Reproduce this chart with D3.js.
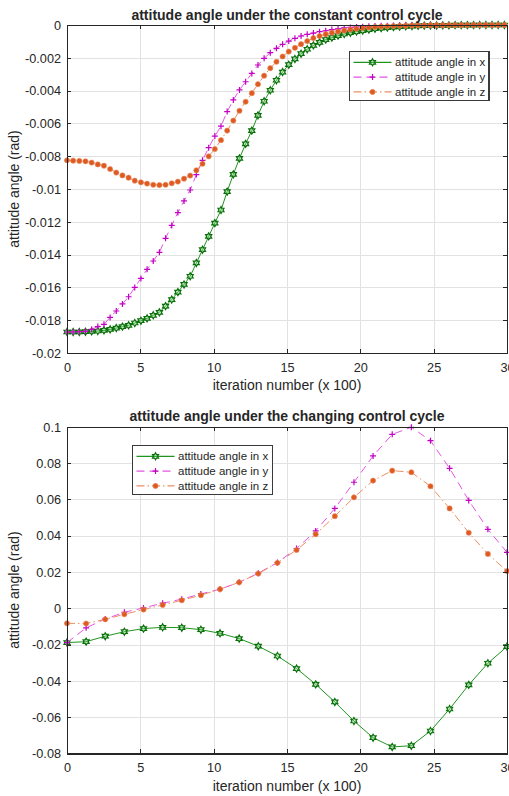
<!DOCTYPE html>
<html><head><meta charset="utf-8">
<script src="https://cdn.jsdelivr.net/npm/d3@7"></script>
<style>
body{margin:0;background:#fff}
svg{display:block}
text{font-family:"Liberation Sans",Arial,Helvetica,sans-serif;fill:#262626}
</style>
</head><body>
<svg id="c" width="509" height="796"></svg>
<script>
// ---------- DATA ----------
const xTickValues = [0, 5, 10, 15, 20, 25, 30];
const yTicksTop = [0, -0.002, -0.004, -0.006, -0.008, -0.01, -0.012, -0.014, -0.016, -0.018, -0.02];
const yTicksBottom = [0.1, 0.08, 0.06, 0.04, 0.02, 0, -0.02, -0.04, -0.06, -0.08];
const seriesNames = ["attitude angle in x", "attitude angle in y", "attitude angle in z"];
const titleTop = "attitude angle under the constant control cycle";
const titleBottom = "attitude angle under the changing control cycle";
const xLabel = "iteration number (x 100)";
const yLabel = "attitude angle (rad)";

const iterTop = [0,0.42,0.84,1.26,1.68,2.1,2.52,2.94,3.36,3.78,
 4.2,4.62,5.04,5.46,5.88,6.3,6.72,7.14,7.56,7.98,
 8.4,8.82,9.24,9.66,10.08,10.5,10.92,11.34,11.76,12.18,
 12.6,13.02,13.44,13.86,14.28,14.7,15.12,15.54,15.96,16.38,
 16.8,17.22,17.64,18.06,18.48,18.9,19.32,19.74,20.16,20.58,
 21,21.42,21.84,22.26,22.68,23.1,23.52,23.94,24.36,24.78,
 25.2,25.62,26.04,26.46,26.88,27.3,27.72,28.14,28.56,28.98,
 29.4,29.82];
const angleXTop = [-0.01872,-0.01872,-0.01872,-0.01870,-0.01868,-0.01866,-0.01862,-0.01856,-0.01848,-0.01839,
 -0.01831,-0.01817,-0.01803,-0.01789,-0.01770,-0.01752,-0.01714,-0.01674,-0.01629,-0.01582,
 -0.01532,-0.01451,-0.01370,-0.01289,-0.01208,-0.01128,-0.01016,-0.00911,-0.00813,-0.00725,
 -0.00644,-0.00551,-0.00465,-0.00398,-0.00337,-0.00287,-0.00242,-0.00207,-0.00175,-0.00148,
 -0.00124,-0.00106,-0.00089,-0.00077,-0.00065,-0.00055,-0.00047,-0.0004,-0.00034,-0.00028,
 -0.00023,-0.00019,-0.00016,-0.00013,-0.0001,-0.00008,-0.00007,-0.00005,-0.00004,-0.00003,
 -0.00003,-0.00002,-0.00002,-0.00001,-0.00001,-0.00001,-0.00001,0,0,0,
 0,0];
const angleYTop = [-0.01872,-0.01872,-0.01870,-0.01868,-0.01856,-0.01839,-0.01825,-0.01783,-0.01744,-0.01701,
 -0.01657,-0.01600,-0.01545,-0.01490,-0.01439,-0.01386,-0.01301,-0.01222,-0.01144,-0.01073,
 -0.01006,-0.00912,-0.00825,-0.00748,-0.00677,-0.00617,-0.00528,-0.00457,-0.00396,-0.00346,
 -0.00295,-0.00244,-0.00203,-0.00169,-0.00142,-0.00118,-0.00098,-0.00081,-0.00067,-0.00057,
 -0.00049,-0.00041,-0.00035,-0.00028,-0.00024,-0.00018,-0.00015,-0.00012,-0.0001,-0.00008,
 -0.00006,-0.00005,-0.00004,-0.00003,-0.00002,-0.00002,-0.00001,-0.00001,-0.00001,-0.00001,
 -0.00001,-0.00001,0,0,0,0,0,0,0,0,
 0,0];
const angleZTop = [-0.00825,-0.00827,-0.00829,-0.00831,-0.00839,-0.00850,-0.00858,-0.00878,-0.00900,-0.00917,
 -0.00931,-0.00949,-0.00959,-0.00967,-0.00974,-0.00976,-0.00974,-0.00965,-0.00955,-0.00937,
 -0.00918,-0.00886,-0.00846,-0.00801,-0.00756,-0.00702,-0.00644,-0.00583,-0.00523,-0.00468,
 -0.00416,-0.00361,-0.00309,-0.00263,-0.00224,-0.00192,-0.00162,-0.00139,-0.00117,-0.00098,
 -0.0008,-0.00067,-0.00056,-0.00047,-0.0004,-0.00034,-0.00028,-0.00023,-0.00019,-0.00015,
 -0.00012,-0.0001,-0.00008,-0.00006,-0.00005,-0.00004,-0.00003,-0.00002,-0.00002,-0.00001,
 -0.00001,-0.00001,-0.00001,-0.00001,-0.00001,0,0,0,0,0,
 0,0];

const iterBottom = [0,1.304,2.609,3.913,5.217,6.522,7.826,9.13,10.435,11.739,13.043,14.348,
 15.652,16.957,18.261,19.565,20.87,22.174,23.478,24.783,26.087,27.391,28.696,30];
const angleXBottom = [-0.0189,-0.0184,-0.0154,-0.0129,-0.0112,-0.0105,-0.0107,-0.0118,-0.0138,-0.0167,-0.0209,-0.0263,
 -0.0332,-0.0419,-0.0516,-0.0621,-0.0713,-0.0764,-0.0757,-0.0676,-0.0555,-0.0422,-0.0303,-0.0211];
const angleYBottom = [-0.0189,-0.0108,-0.0059,-0.0022,0.0002,0.0028,0.0050,0.0079,0.0105,0.0143,0.0193,0.0252,
 0.0329,0.0426,0.0550,0.0694,0.0839,0.0958,0.0997,0.0923,0.0771,0.0594,0.0435,0.0308];
const angleZBottom = [-0.0083,-0.0084,-0.0061,-0.0033,-0.0007,0.0018,0.0044,0.0072,0.0105,0.0143,0.0191,0.0250,
 0.0321,0.0408,0.0507,0.0611,0.0703,0.0758,0.0749,0.0672,0.0550,0.0416,0.0299,0.0205];

// ---------- STYLES ----------
const styles = [
  {line:"#1f951f", dash:null, marker:"hex", mcol:"#086f08"},
  {line:"#e455e4", dash:"8,5", marker:"plus", mcol:"#c400c4"},
  {line:"#ec8f63", dash:"8,3,1.5,3", marker:"dot", mcol:"#dd5a22"}
];
const fmt = d => String(+d.toFixed(4));

const svg = d3.select("#c");
svg.append("rect").attr("width",509).attr("height",796).attr("fill","#fff");

function hexPath(R){
  const r = R/Math.sqrt(3);
  const pts=[];
  for(let k=0;k<12;k++){
    const a=(-90+k*30)*Math.PI/180;
    const rr = k%2===0?R:r;
    pts.push([rr*Math.cos(a), rr*Math.sin(a)]);
  }
  return "M"+pts.map(p=>p[0].toFixed(2)+","+p[1].toFixed(2)).join("L")+"Z";
}

function drawMarker(sel, st){
  if(st.marker==="hex"){
    sel.append("path").attr("d",hexPath(3.5)).attr("fill","#7ccf7c").attr("fill-opacity",0.35)
      .attr("stroke",st.mcol).attr("stroke-width",1.2);
  } else if(st.marker==="plus"){
    sel.append("path").attr("d","M-3,0H3M0,-3V3").attr("stroke",st.mcol).attr("stroke-width",1.2);
  } else {
    sel.append("circle").attr("r",2.6).attr("fill",st.mcol).attr("stroke","#ec8a5c").attr("stroke-width",0.6);
  }
}

function panel(cfg, idx){
  const x = d3.scaleLinear().domain([0,30]).range([cfg.left,cfg.right]);
  const y = d3.scaleLinear().domain(cfg.yDomain).range([cfg.bottom,cfg.top]);
  const g = svg.append("g");
  const W = cfg.right-cfg.left, H = cfg.bottom-cfg.top;

  // grid
  const gx = g.append("g").attr("transform",`translate(0,${cfg.bottom})`)
    .call(d3.axisBottom(x).tickValues(xTickValues).tickSize(-H).tickFormat(""));
  const gy = g.append("g").attr("transform",`translate(${cfg.left},0)`)
    .call(d3.axisLeft(y).tickValues(cfg.yTicks).tickSize(-W).tickFormat(""));
  [gx,gy].forEach(a=>{a.select(".domain").remove();
    a.selectAll("line").attr("stroke","#e2e2e2").attr("stroke-width",1).attr("shape-rendering","crispEdges");});

  // clip
  const cid="clip"+idx;
  svg.append("clipPath").attr("id",cid).append("rect")
    .attr("x",cfg.left).attr("y",cfg.top-1).attr("width",W).attr("height",H+2);

  const line = d3.line().x(d=>x(d[0])).y(d=>y(d[1]));
  cfg.series.forEach((vals,i)=>{
    const st = styles[i];
    const data = cfg.xs.map((xx,j)=>[xx, vals[j]]);
    g.append("path").datum(data).attr("d",line).attr("fill","none")
      .attr("stroke",st.line).attr("stroke-width",1)
      .attr("stroke-dasharray",st.dash).attr("clip-path",`url(#${cid})`);
    const m = g.append("g").selectAll("g").data(data).join("g")
      .attr("transform",d=>`translate(${x(d[0])},${y(d[1])})`);
    m.each(function(){ drawMarker(d3.select(this), st); });
  });

  // axes with inward ticks
  const tk = 4.4;
  const ab = g.append("g").attr("transform",`translate(0,${cfg.bottom})`)
    .call(d3.axisBottom(x).tickValues(xTickValues).tickSizeInner(-tk).tickSizeOuter(0).tickPadding(9.5).tickFormat(fmt));
  const at = g.append("g").attr("transform",`translate(0,${cfg.top})`)
    .call(d3.axisTop(x).tickValues(xTickValues).tickSizeInner(-tk).tickSizeOuter(0).tickFormat(""));
  const al = g.append("g").attr("transform",`translate(${cfg.left},0)`)
    .call(d3.axisLeft(y).tickValues(cfg.yTicks).tickSizeInner(-tk).tickSizeOuter(0).tickPadding(6).tickFormat(fmt));
  const ar = g.append("g").attr("transform",`translate(${cfg.right},0)`)
    .call(d3.axisRight(y).tickValues(cfg.yTicks).tickSizeInner(-tk).tickSizeOuter(0).tickFormat(""));
  [ab,at,al,ar].forEach(a=>{
    a.select(".domain").attr("stroke","#262626").attr("stroke-width",1.1).attr("shape-rendering","crispEdges");
    a.selectAll(".tick line").attr("stroke","#262626").attr("stroke-width",1).attr("shape-rendering","crispEdges");
    a.selectAll("text").attr("fill","#262626").attr("font-size","12.7px")
      .attr("font-family",'"Liberation Sans",Arial,sans-serif');
  });
  al.selectAll("text").attr("dy","0.34em");

  // title and labels
  g.append("text").attr("x",(cfg.left+cfg.right)/2).attr("y",cfg.top-5.5)
    .attr("text-anchor","middle").attr("font-weight","bold").attr("font-size","14px").text(cfg.title);
  g.append("text").attr("x",(cfg.left+cfg.right)/2).attr("y",cfg.bottom+37)
    .attr("text-anchor","middle").attr("font-size","14px").text(xLabel);
  g.append("text").attr("transform",`translate(19,${(cfg.top+cfg.bottom)/2}) rotate(-90)`)
    .attr("text-anchor","middle").attr("font-size","14px").text(yLabel);

  // legend
  const L = cfg.legend;
  const lg = g.append("g");
  lg.append("rect").attr("x",L.x).attr("y",L.y).attr("width",L.w).attr("height",L.h)
    .attr("fill","#fff").attr("stroke","#3a3a3a").attr("stroke-width",1.3).attr("shape-rendering","crispEdges");
  seriesNames.forEach((name,i)=>{
    const st = styles[i];
    const yy = L.y + 10.8 + i*14.8;
    lg.append("line").attr("x1",L.x+4).attr("x2",L.x+42).attr("y1",yy).attr("y2",yy)
      .attr("stroke",st.line).attr("stroke-width",1.3).attr("stroke-dasharray",st.dash);
    drawMarker(lg.append("g").attr("transform",`translate(${L.x+23},${yy})`), st);
    lg.append("text").attr("x",L.x+45.5).attr("y",yy).attr("dy","0.35em")
      .attr("font-size","11.5px").text(name);
  });
}

panel({left:67,right:507,top:25,bottom:353,yDomain:[-0.02,0],yTicks:yTicksTop,
  title:titleTop, xs:iterTop, series:[angleXTop,angleYTop,angleZTop],
  legend:{x:349.5,y:51.5,w:139.5,h:49}}, 0);
panel({left:67,right:507,top:426.7,bottom:753.5,yDomain:[-0.08,0.1],yTicks:yTicksBottom,
  title:titleBottom, xs:iterBottom, series:[angleXBottom,angleYBottom,angleZBottom],
  legend:{x:132.5,y:445.5,w:140,h:49}}, 1);
</script>
</body></html>
